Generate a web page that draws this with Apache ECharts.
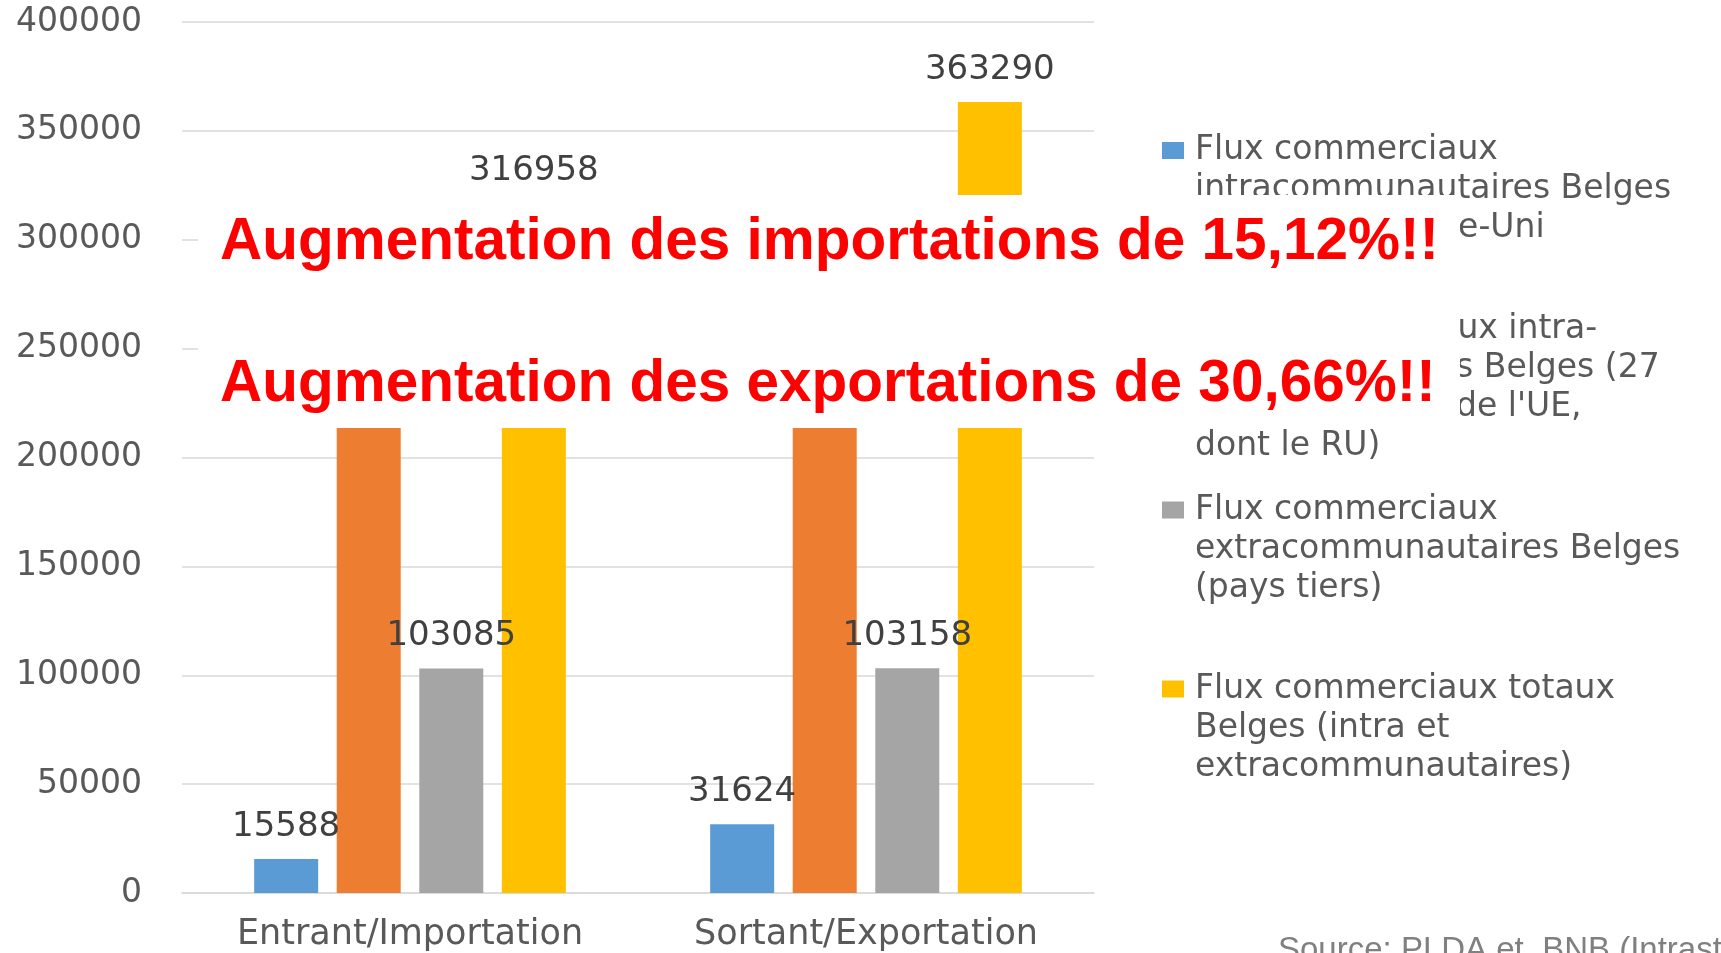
<!DOCTYPE html>
<html>
<head>
<meta charset="utf-8">
<script src="https://cdn.jsdelivr.net/npm/echarts@6/dist/echarts.min.js"></script>
<style>
  html, body { margin: 0; padding: 0; background: #fff; }
  #main { width: 1721px; height: 953px; }
</style>
</head>
<body>
<div id="main"></div>
<script>
// categories
const categories = ['Entrant/Importation', 'Sortant/Exportation'];

// series names
const seriesNames = [
  'Flux commerciaux intracommunautaires Belges avec le Royaume-Uni',
  'Flux commerciaux intra-communautaires Belges (27 États membres de l\'UE, dont le RU)',
  'Flux commerciaux extracommunautaires Belges (pays tiers)',
  'Flux commerciaux totaux Belges (intra et extracommunautaires)'
];

// legend text, line by line
const legendLines = [
  ['Flux commerciaux', 'intracommunautaires Belges', 'avec le Royaume-Uni'],
  ['Flux commerciaux intra-', 'communautaires Belges (27', 'États membres de l\'UE,', 'dont le RU)'],
  ['Flux commerciaux', 'extracommunautaires Belges', '(pays tiers)'],
  ['Flux commerciaux totaux', 'Belges (intra et', 'extracommunautaires)']
];

// values
const ukIntra = [15588, 31624];
const euIntra = [213873, 260132];
const extraEu = [103085, 103158];
const totalBe = [316958, 363290];

// y axis ticks
const yMin = 0;
const yMax = 400000;
const yStep = 50000;

// callout texts
const calloutLines = [
  'Augmentation des importations de 15,12%!!',
  'Augmentation des exportations de 30,66%!!'
];
const sourceText = 'Source: PLDA et  BNB (Intrastat)';

const colors = ['#5b9bd5', '#ed7d31', '#a5a5a5', '#ffc000'];
const values = [ukIntra, euIntra, extraEu, totalBe];

window.onload = function () {
  let chart = echarts.init(document.getElementById('main'));

  const font = 'DejaVu Sans';
  const lh = 39;
  // icon centre of each legend entry
  const legendY = [150.5, 329, 510, 689];

  // one legend per entry, first line of text next to the icon
  let legends = seriesNames.map(function (name, i) {
    const n = legendLines[i].length;
    const h = (2 * n - 1) * lh;
    return {
      data: [name],
      left: 1162,
      top: legendY[i] - h / 2,
      orient: 'vertical',
      padding: 0,
      icon: 'rect',
      itemWidth: 22,
      itemHeight: 17,
      selectedMode: false,
      formatter: function () {
        return new Array(n).join('\n') + legendLines[i].join('\n');
      },
      textStyle: {
        fontFamily: font,
        fontSize: 33,
        lineHeight: lh,
        color: '#595959',
        padding: [0, 0, 0, 6]
      }
    };
  });

  let series = seriesNames.map(function (name, i) {
    return {
      name: name,
      type: 'bar',
      data: values[i],
      barWidth: 64,
      barGap: '29%',
      itemStyle: { color: colors[i] },
      label: {
        show: true,
        position: 'top',
        distance: 15,
        fontFamily: font,
        fontSize: 34,
        color: '#404040'
      }
    };
  });

  const calloutStyle = function (text) {
    return {
      text: text,
      fontFamily: 'Liberation Sans',
      fontWeight: 'bold',
      fontSize: 60,
      fill: '#ff0000',
      verticalAlign: 'middle'
    };
  };

  let option = {
    animation: false,
    backgroundColor: '#ffffff',
    grid: {
      left: 182,
      right: 627,
      top: 22,
      bottom: 60,
      outerBoundsMode: 'none'
    },
    legend: legends,
    xAxis: {
      type: 'category',
      data: categories,
      axisTick: { show: false },
      axisLine: { lineStyle: { color: '#d9d9d9', width: 1.5 } },
      axisLabel: {
        fontFamily: font,
        fontSize: 35,
        color: '#595959',
        margin: 24
      }
    },
    yAxis: {
      type: 'value',
      min: yMin,
      max: yMax,
      interval: yStep,
      axisLine: { show: false },
      axisTick: { show: false },
      splitLine: { lineStyle: { color: '#d9d9d9', width: 1.5 } },
      axisLabel: {
        fontFamily: font,
        fontSize: 33,
        color: '#595959',
        margin: 40,
        formatter: function (val) {
          return String(val);
        }
      }
    },
    series: series,
    graphic: [
      {
        type: 'rect',
        z: 100,
        shape: { x: 198, y: 195, width: 1262, height: 233 },
        style: { fill: '#ffffff' }
      },
      {
        type: 'text',
        z: 101,
        x: 220,
        y: 242,
        scaleX: 0.975,
        style: calloutStyle(calloutLines[0])
      },
      {
        type: 'text',
        z: 101,
        x: 220,
        y: 384,
        scaleX: 0.975,
        style: calloutStyle(calloutLines[1])
      },
      {
        type: 'text',
        z: 101,
        x: 1278,
        y: 951,
        style: {
          text: sourceText,
          fontFamily: 'Liberation Sans',
          fontSize: 33,
          fill: '#808080',
          verticalAlign: 'middle'
        }
      }
    ]
  };

  chart.setOption(option);
};
</script>
</body>
</html>
